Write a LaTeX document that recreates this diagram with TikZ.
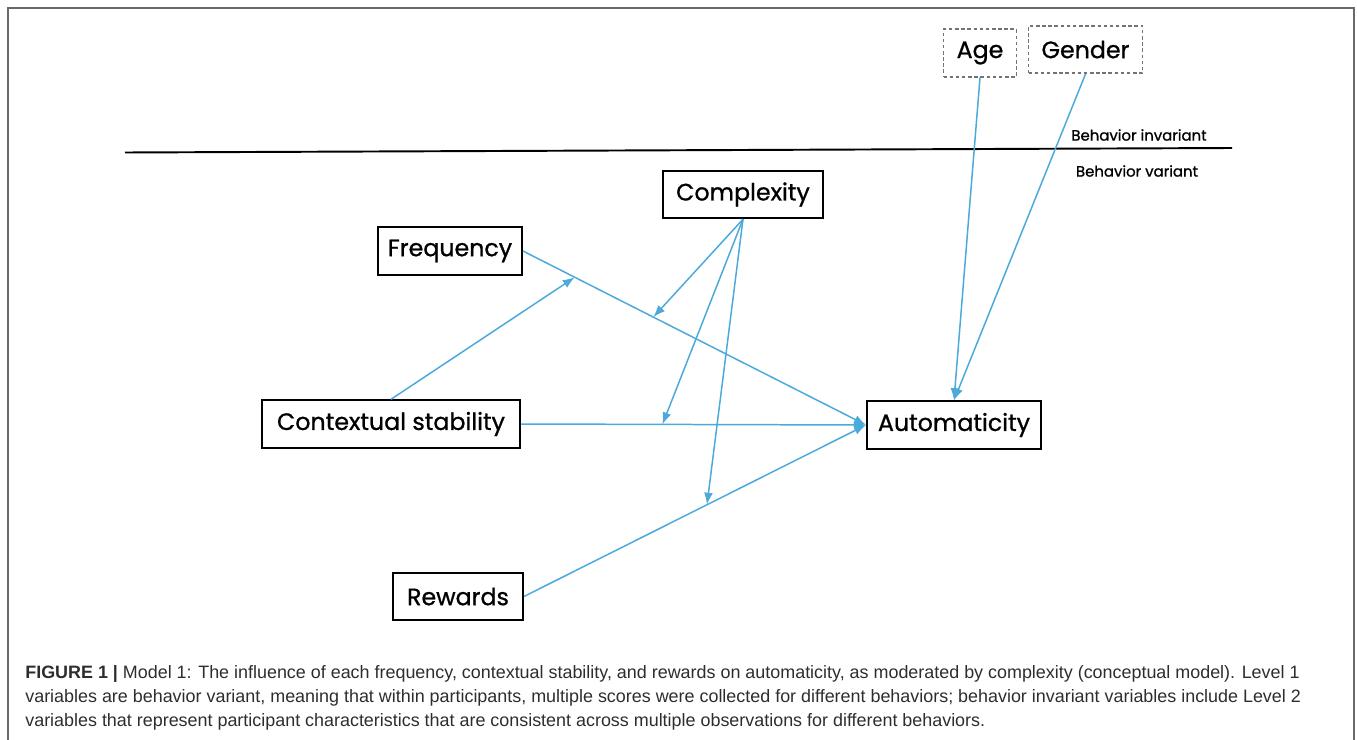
\documentclass[tikz,border=0pt]{standalone}
\usepackage{fontspec}
\setmainfont{Liberation Sans}
\newfontfamily\boxfont[FakeBold=0.9]{Poppins}
\usetikzlibrary{arrows.meta}

\definecolor{pathblue}{RGB}{76,170,219}
\definecolor{framegray}{RGB}{105,105,105}
\definecolor{captext}{RGB}{45,45,45}

\tikzset{
    var/.style={draw, line width=1.1pt, font=\boxfont\fontsize{13.5}{15}\selectfont, minimum height=0.95cm, inner sep=2pt},
    covar/.style={var, draw=black!55, line width=0.9pt, dash pattern=on 2pt off 1.5pt},
    level/.style={font=\boxfont\fontsize{8.5}{10}\selectfont, inner sep=0pt},
    link/.style={-{Latex[length=2.4mm, width=1.8mm]}, pathblue, line width=0.85pt},
    caption/.style={anchor=base west, inner sep=0pt, text=captext, font=\fontsize{10.2}{12}\selectfont},
}

\begin{document}
\begin{tikzpicture}[x=0.02cm, y=-0.02cm]
    \useasboundingbox (0,0) rectangle (1357,740);
    \draw[framegray, line width=1pt] (8,760) -- (8,8) -- (1354,8) -- (1354,760);

    \draw[line width=1.1pt] (125,152.5) -- (1232,148);
    \node[level] (inv) at (1139,135) {Behavior invariant};
    \node[level] (var) at (1137,171) {Behavior variant};

    \node[covar, minimum width=1.46cm] (age) at (980,53) {Age};
    \node[covar, minimum width=2.28cm] (gender) at (1085.5,49.5) {Gender};
    \node[var, minimum width=3.2cm] (cplx) at (743,194.5) {Complexity};
    \node[var, minimum width=2.88cm] (freq) at (450,251) {Frequency};
    \node[var, minimum width=5.16cm] (ctx) at (391,424) {Contextual stability};
    \node[var, minimum width=3.48cm] (auto) at (954,425) {Automaticity};
    \node[var, minimum width=2.6cm] (rew) at (458,596.5) {Rewards};

    \path (freq.east) -- (auto.west) coordinate[pos=0.151] (fa1) coordinate[pos=0.38] (fa2);
    \path (ctx.east) -- (auto.west) coordinate[pos=0.41] (ca);
    \path (rew.east) -- (auto.west) coordinate[pos=0.535] (ra);

    \draw[link] (freq.east) -- (auto.west);
    \draw[link] (ctx.east) -- (auto.west);
    \draw[link] (rew.east) -- (auto.west);
    \draw[link] (ctx.north) -- (fa1);
    \draw[link] (cplx.south) -- (fa2);
    \draw[link] (cplx.south) -- (ca);
    \draw[link] (cplx.south) -- (ra);
    \draw[link] (age.south) -- (auto.north);
    \draw[link] (gender.south) -- (auto.north);

    \node[caption] (cap1) at (25,678) {\textbf{FIGURE 1 |} Model 1: The influence of each frequency, contextual stability, and rewards on automaticity, as moderated by complexity (conceptual model). Level 1};
    \node[caption] (cap2) at (25,702) {variables are behavior variant, meaning that within participants, multiple scores were collected for different behaviors; behavior invariant variables include Level 2};
    \node[caption] (cap3) at (25,726) {variables that represent participant characteristics that are consistent across multiple observations for different behaviors.};
\end{tikzpicture}
\end{document}
